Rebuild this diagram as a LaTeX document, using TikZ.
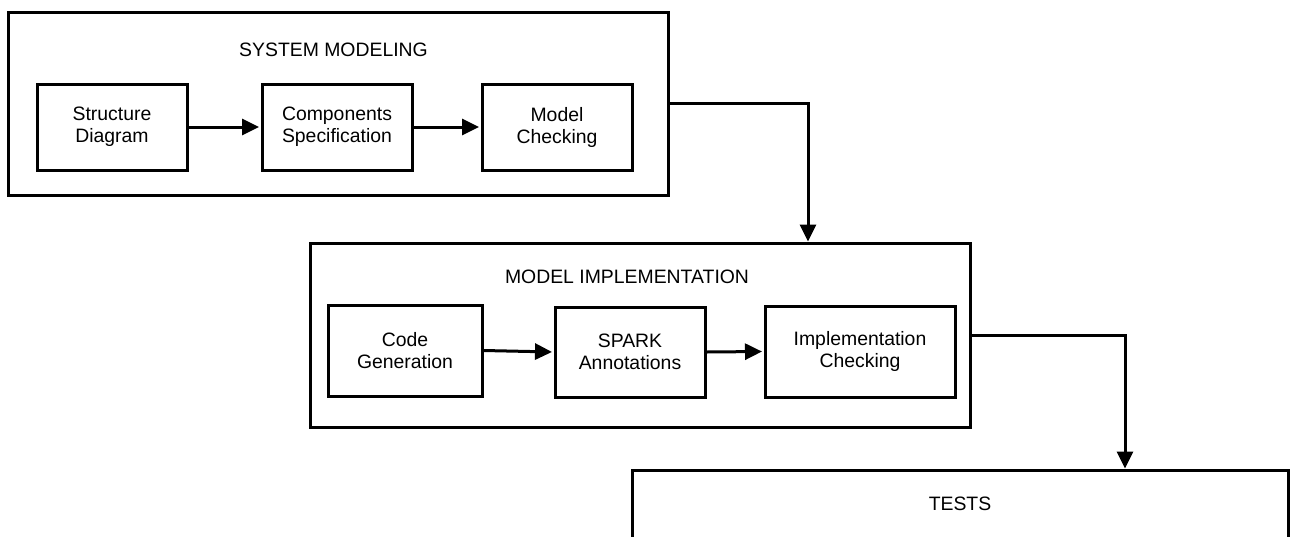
\documentclass[tikz,border=0pt]{standalone}
\usepackage{fontspec}
\setmainfont{Liberation Sans}
\usetikzlibrary{arrows.meta}
\begin{document}
\begin{tikzpicture}[x=1pt,y=-1pt,
  outerbox/.style={draw,line width=3pt,rectangle,inner sep=0pt},
  stepbox/.style={draw,line width=3pt,rectangle,inner sep=0pt,align=center,font=\fontsize{19.4}{22}\selectfont},
  title/.style={inner sep=0pt,font=\fontsize{19.4}{22}\selectfont},
  conn/.style={line width=3pt,shorten >=1.5pt,-{Triangle[length=17pt,width=16pt]}}]
\useasboundingbox (0,0) rectangle (1292,536);
\clip (0,0) rectangle (1292,536);
% System modeling
\node[outerbox,minimum width=660pt,minimum height=183pt] (sm) at (338,103.5) {};
\node[title] (smt) at (333.5,49.5) {SYSTEM MODELING};
\node[stepbox,minimum width=150pt,minimum height=86pt] (sd) at (112,127) {Structure\\Diagram};
\node[stepbox,minimum width=150pt,minimum height=86pt] (cs) at (337,127) {Components\\Specification};
\node[stepbox,minimum width=150pt,minimum height=86pt] (mc) at (557,127) {Model\\Checking};
\draw[conn] (sd.east) -- (cs.west);
\draw[conn] (cs.east) -- (mc.west);
% Model implementation
\node[outerbox,minimum width=660pt,minimum height=184pt] (mi) at (640,335) {};
\node[title] (mit) at (627,277) {MODEL IMPLEMENTATION};
\node[stepbox,minimum width=154pt,minimum height=91pt] (cg) at (405,350.5) {Code\\Generation};
\node[stepbox,minimum width=150pt,minimum height=90pt] (sa) at (630,352) {SPARK\\Annotations};
\node[stepbox,minimum width=190pt,minimum height=91pt] (ic) at (860,351.5) {Implementation\\Checking};
\draw[conn] (cg.east) -- (sa.west);
\draw[conn] (sa.east) -- (ic.west);
% Tests
\node[outerbox,minimum width=656pt,minimum height=140pt] (ts) at (960,540) {};
\node[title] (tst) at (960,504) {TESTS};
% Links between stages
\coordinate (j1) at (808,243);
\coordinate (j2) at (1125,470);
\draw[conn] (sm.east) -| (j1);
\draw[conn] (mi.east) -| (j2);
\end{tikzpicture}
\end{document}
